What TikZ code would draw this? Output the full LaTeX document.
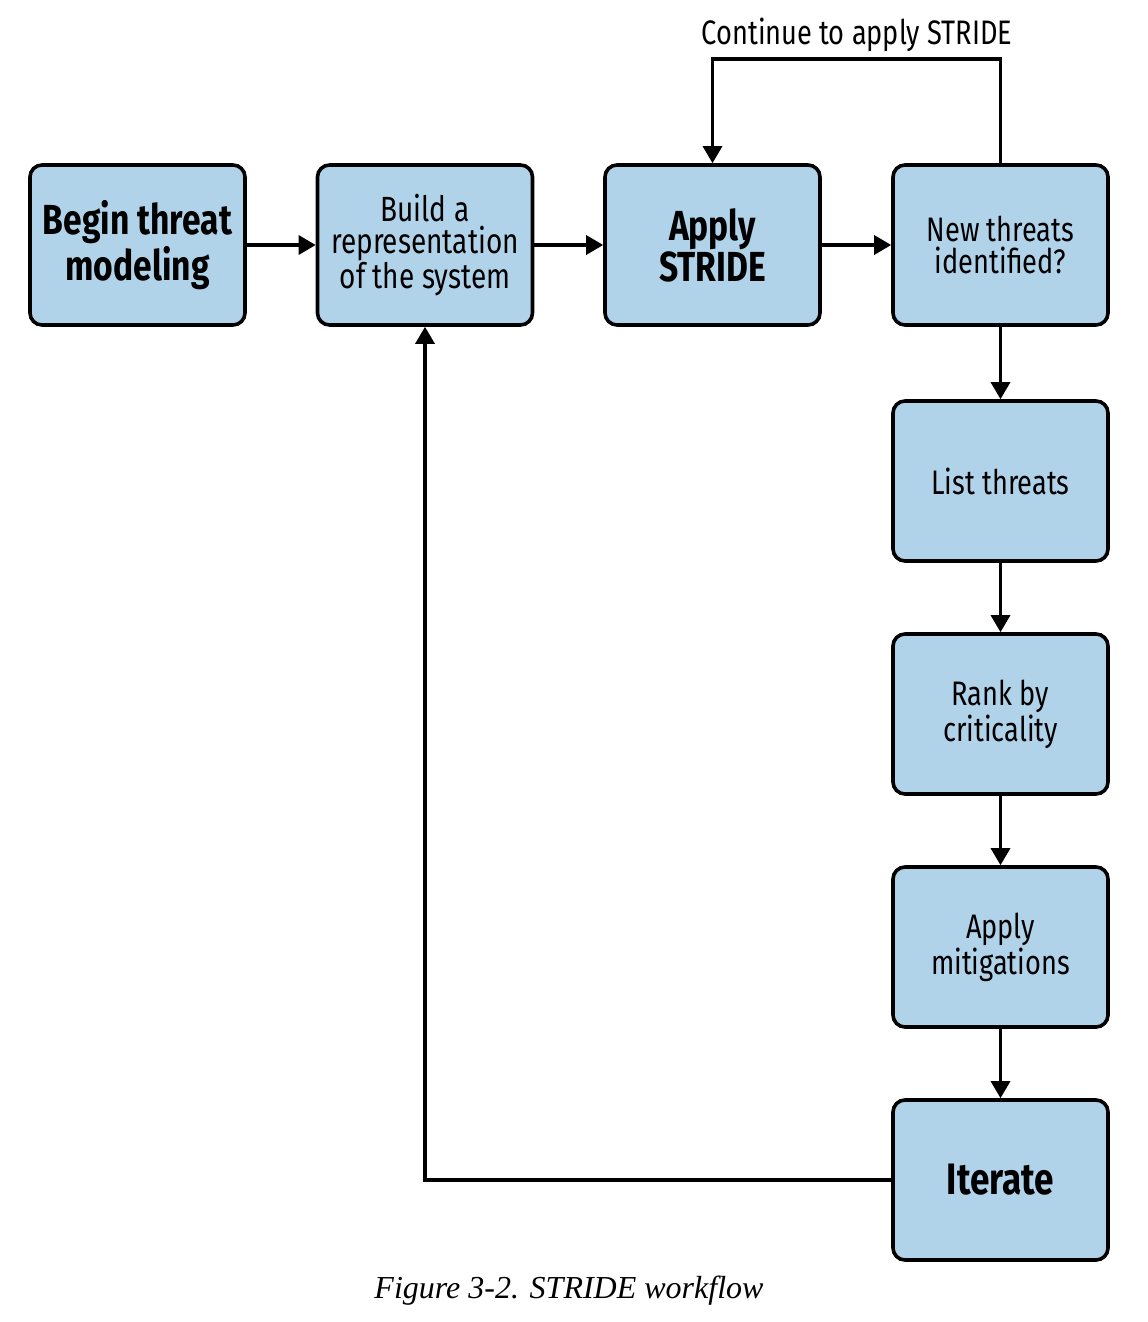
\documentclass[tikz,border=0pt]{standalone}
\usepackage{fontspec}
\setmainfont[FakeStretch=0.8]{Fira Sans}
\newfontfamily\capfont{Liberation Serif}
\usetikzlibrary{arrows.meta}
\definecolor{boxblue}{HTML}{B1D3EA}
\tikzset{
  stepbox/.style={draw=black, line width=1.8pt, fill=boxblue, rounded corners=6pt,
    minimum width=107.5pt, minimum height=80pt, inner sep=0pt, align=center, anchor=center},
  flow/.style={line width=1.6pt, -{Triangle[length=8.5pt,width=9.5pt]}},
  plain/.style={line width=1.6pt}
}
\begin{document}
\begin{tikzpicture}[x=0.5pt,y=-0.5pt]
\useasboundingbox (0,0) rectangle (1147,1322);
\node[stepbox, font=\fontsize{21}{18}\selectfont\bfseries] (begin) at (137.5,245) {Begin threat\\modeling};
\node[stepbox, font=\fontsize{17.5}{16}\selectfont] (build) at (425,245) {Build a\\representation\\of the system};
\node[stepbox, font=\fontsize{21}{18}\selectfont\bfseries] (apply) at (712.5,245) {Apply\\STRIDE};
\node[stepbox, font=\fontsize{17}{16}\selectfont] (new) at (1000.5,245) {New threats\\identified?};
\node[stepbox, font=\fontsize{17}{16}\selectfont] (list) at (1000.5,481) {List threats};
\node[stepbox, font=\fontsize{17}{16}\selectfont] (rank) at (1000.5,714) {Rank by\\criticality};
\node[stepbox, font=\fontsize{17}{16}\selectfont] (mitig) at (1000.5,947) {Apply\\mitigations};
\node[stepbox, font=\fontsize{22}{18}\selectfont\bfseries] (iter) at (1000.5,1180) {Iterate};
\node[font=\fontsize{17}{17}\selectfont, anchor=base] (cont) at (857,45) {Continue to apply STRIDE};
\node[font=\capfont\itshape\fontsize{16}{16}\selectfont, anchor=base] (cap) at (569,1298) {Figure 3-2. STRIDE workflow};
\coordinate (lt) at (712.5,59);
\coordinate (rt) at (1000.5,59);
\coordinate (bl) at (425,1180);
\draw[flow] (begin) -- (build);
\draw[flow] (build) -- (apply);
\draw[flow] (apply) -- (new);
\draw[flow] (new) -- (list);
\draw[flow] (list) -- (rank);
\draw[flow] (rank) -- (mitig);
\draw[flow] (mitig) -- (iter);
\draw[flow] (new.north) -- (rt) -- (lt) -- (apply.north);
\draw[flow] (iter.west) -- (bl) -- (build.south);
\end{tikzpicture}
\end{document}
